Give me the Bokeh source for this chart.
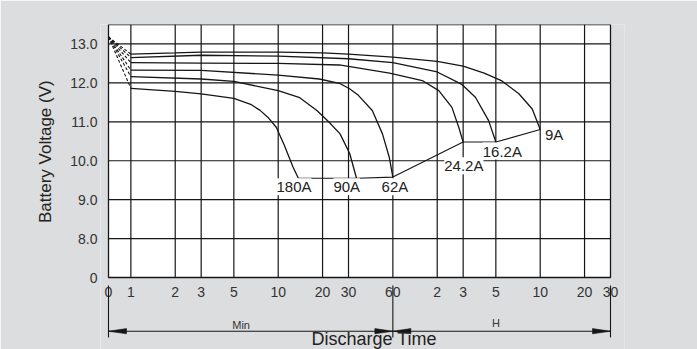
import math
from bokeh.plotting import figure
from bokeh.models import Range1d, FixedTicker, Label, Title
from bokeh.core.properties import value
from bokeh.embed import file_html
from bokeh.resources import INLINE

# ---------------- data ----------------
T0 = 0.705          # the "0" position at the left edge of the log time axis (minutes)
T_END = 1800        # 30 h in minutes
V_START = 13.18     # open-circuit start voltage
V_BOTTOM, V_TOP = 7, 13.5   # "0" is drawn at the bottom of the broken voltage axis

x_ticks = [T0, 1, 2, 3, 5, 10, 20, 30, 60, 120, 180, 300, 600, 1200, 1800]
x_tick_labels = ["0", "1", "2", "3", "5", "10", "20", "30", "60", "2", "3", "5", "10", "20", "30"]
x_grid = [1, 2, 3, 5, 10, 20, 30, 60, 120, 180, 300, 600, 1200]
y_ticks = [7, 8, 9, 10, 11, 12, 13]
y_tick_labels = ["0", "8.0", "9.0", "10.0", "11.0", "12.0", "13.0"]
y_grid = [8, 9, 10, 11, 12, 13]

t_9A = [1, 2, 3, 5, 10, 20, 30, 60, 120, 180, 250, 330, 430, 530, 600]
v_9A = [12.74, 12.77, 12.79, 12.79, 12.79, 12.77, 12.74, 12.66, 12.55, 12.43, 12.25, 12.05, 11.72, 11.33, 10.8]

t_16A = [1, 3, 10, 30, 60, 120, 175, 218, 268, 300]
v_16A = [12.65, 12.71, 12.69, 12.62, 12.52, 12.28, 11.97, 11.63, 11.03, 10.48]

t_24A = [1, 3, 10, 26, 57, 95, 123, 151, 168, 180]
v_24A = [12.52, 12.51, 12.50, 12.46, 12.25, 12.06, 11.80, 11.37, 10.86, 10.48]

t_62A = [1, 3, 10, 19, 26, 30.5, 35, 43.5, 51, 56.7, 60]
v_62A = [12.33, 12.32, 12.2, 12.1, 11.99, 11.85, 11.68, 11.29, 10.69, 10.09, 9.58]

t_90A = [1, 3, 5, 10, 14, 18.3, 22, 26.3, 30.6, 34]
v_90A = [12.16, 12.1, 12.04, 11.8, 11.62, 11.29, 11.0, 10.69, 10.18, 9.55]

t_180A = [1, 2, 3, 5, 6.5, 7.5, 8.5, 9.7, 11, 12.6, 13.7]
v_180A = [11.86, 11.78, 11.72, 11.6, 11.45, 11.3, 11.12, 10.86, 10.4, 9.84, 9.55]

t_cut = [13.7, 34, 60, 180, 300, 600]
v_cut = [9.55, 9.55, 9.58, 10.48, 10.48, 10.8]

curve_t = [t_9A, t_16A, t_24A, t_62A, t_90A, t_180A]
curve_v = [v_9A, v_16A, v_24A, v_62A, v_90A, v_180A]

label_text = ["180A", "90A", "62A", "24.2A", "16.2A", "9A"]
label_t = [12.8, 29.2, 62, 182, 332, 646]
label_v = [9.33, 9.33, 9.33, 9.87, 10.25, 10.68]

scale_marks = [T0, 60, T_END]          # min | hour boundaries of the time scale
scale_names = ["Min", "H"]
scale_name_t = [5.6, 300]

# ---------------- geometry / styling ----------------
FONT = "Liberation Sans"
INK = "#161616"
BG = "#dcdddf"
W, H = 697, 349
CHART_L, CHART_W, CHART_TOP, CHART_H = 108, 502, 24, 253
PAD_L, PAD_R = 8, 14
PX_PER_DECADE = CHART_W / math.log10(T_END / T0)
PX_PER_VOLT = CHART_H / (V_TOP - V_BOTTOM)
BELOW = H - CHART_TOP - CHART_H        # strip under the chart (pixels)


def below(px):
    """voltage-axis coordinate lying px pixels under the bottom of the chart"""
    return V_BOTTOM - px / PX_PER_VOLT


p = figure(width=W, height=H, x_axis_type="log",
           x_range=Range1d(T0 * 10 ** (-PAD_L / PX_PER_DECADE), T_END * 10 ** (PAD_R / PX_PER_DECADE)),
           y_range=Range1d(below(BELOW), V_TOP),
           output_backend="svg", toolbar_location=None,
           min_border_left=CHART_L - PAD_L, min_border_right=W - CHART_L - CHART_W - PAD_R,
           min_border_top=CHART_TOP, min_border_bottom=0)
p.background_fill_color = BG
p.border_fill_color = BG
p.outline_line_color = None
p.xaxis.visible = False
p.grid.visible = False

ya = p.yaxis[0]
ya.ticker = FixedTicker(ticks=y_ticks, minor_ticks=[])
ya.major_label_overrides = {t: s for t, s in zip(y_ticks, y_tick_labels)}
ya.axis_line_color = None
ya.major_tick_line_color = None
ya.minor_tick_line_color = None
ya.major_tick_out = 0
ya.major_label_text_font = FONT
ya.major_label_text_font_size = "14px"
ya.major_label_text_color = "#333333"
ya.major_label_standoff = 3

# y axis title, centred on the chart area (not on the whole strip below it)
TITLE_LEN = 144
title_start = BELOW + CHART_H / 2 - TITLE_LEN / 2
p.add_layout(Title(text="Battery Voltage (V)", align="left", offset=title_start,
                   vertical_align="middle",
                   text_font=FONT, text_font_size="17px", text_font_style="normal",
                   text_color="#222222", standoff=24), "left")

# chart area, grid and outline
p.quad(left=[T0], right=[T_END], bottom=[V_BOTTOM], top=[V_TOP], fill_color="white", line_color=None)
p.segment(x0=x_grid, y0=[V_BOTTOM] * len(x_grid), x1=x_grid, y1=[V_TOP] * len(x_grid),
          line_color=INK, line_width=1.2)
p.segment(x0=[T0] * len(y_grid), y0=y_grid, x1=[T_END] * len(y_grid), y1=y_grid,
          line_color=INK, line_width=1.2)
p.quad(left=[T0], right=[T_END], bottom=[V_BOTTOM], top=[V_TOP], fill_color=None,
       line_color=INK, line_width=1.3)

# discharge curves
for ts, vs in zip(curve_t, curve_v):
    p.line([T0, ts[0]], [V_START, vs[0]], line_color=INK, line_width=1.1, line_dash="3 2")
    p.line(ts, vs, line_color=INK, line_width=1.3)
p.line(t_cut, v_cut, line_color=INK, line_width=1.1)

for txt, tx, vy in zip(label_text, label_t, label_v):
    p.add_layout(Label(x=tx, y=vy, text=txt, text_font=FONT, text_font_size="15px",
                       text_color="#222222", text_align="left" if txt == "9A" else "center",
                       text_baseline="middle", background_fill_color="white"))

# time axis labels
p.text(x=x_ticks, y=[below(14.7)] * len(x_ticks), text=x_tick_labels,
       text_font=value(FONT), text_font_size="14px", text_color="#333333",
       text_align="center", text_baseline="middle")

# min / hour scale with arrows
Y_LINE = below(53.7)
p.segment(x0=scale_marks, y0=[below(8)] * 3, x1=scale_marks, y1=[below(60)] * 3,
          line_color=INK, line_width=1.1)
p.line([T0, T_END], [Y_LINE, Y_LINE], line_color=INK, line_width=1.1)

HEAD_L, HEAD_HW = 18, 2.6
heads = [(T0, -1), (60, 1), (60, -1), (T_END, 1)]
xs, ys = [], []
for tip, d in heads:
    base = tip * 10 ** (-d * HEAD_L / PX_PER_DECADE)
    xs.append([tip, base, base])
    ys.append([Y_LINE, Y_LINE - HEAD_HW / PX_PER_VOLT, Y_LINE + HEAD_HW / PX_PER_VOLT])
p.patches(xs, ys, fill_color=INK, line_color=INK, line_width=0.6)

for name, tx, off in zip(scale_names, scale_name_t, [47, 45]):
    p.add_layout(Label(x=tx, y=below(off), text=name, text_font=FONT, text_font_size="11px",
                       text_color="#333333", text_align="center", text_baseline="middle"))
p.add_layout(Label(x=44.8, y=below(BELOW - 1), text="Discharge Time", text_font=FONT,
                   text_font_size="18px", text_color="#222222", text_align="center",
                   text_baseline="bottom"))

open("out.html", "w").write(file_html(p, INLINE))
